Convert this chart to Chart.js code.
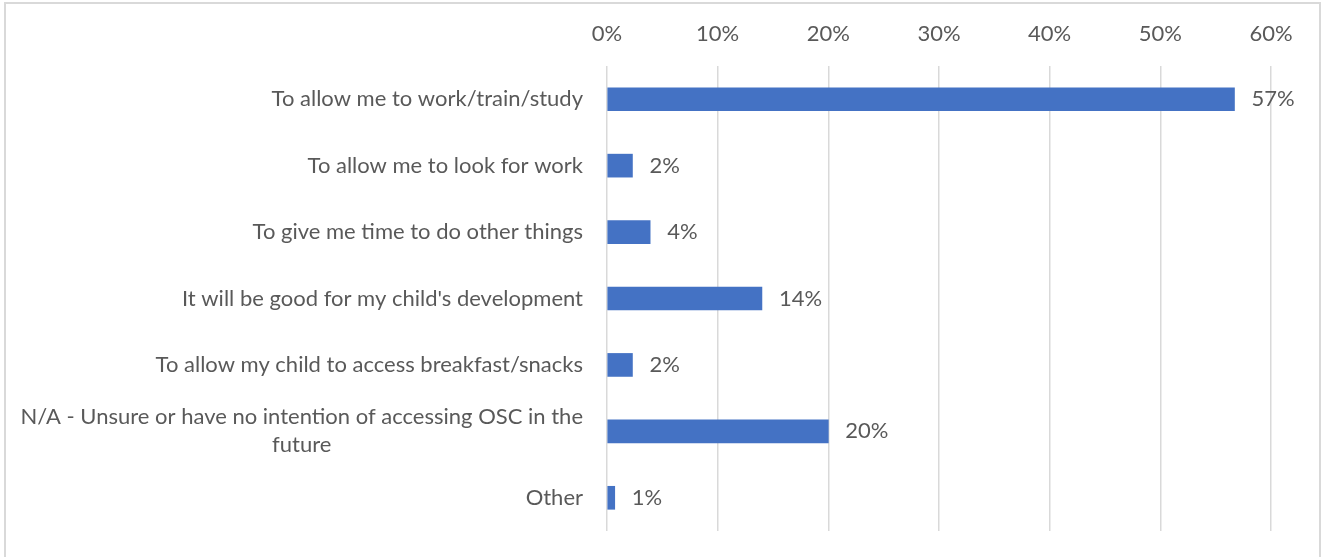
<!DOCTYPE html>
<html>
<head>
<meta charset="utf-8">
<script src="https://cdn.jsdelivr.net/npm/chart.js@4/dist/chart.umd.min.js"></script>
<style>
html, body { margin: 0; padding: 0; background: #fff; }
#divCuerpo { position: relative; width: 1322px; height: 557px; }
</style>
</head>
<body>
<div id="divCuerpo"><canvas id="razonesChrt"></canvas></div>
<script>
(function(){

// ---- datos
const categorias = [
    "To allow me to work/train/study",
    "To allow me to look for work",
    "To give me time to do other things",
    "It will be good for my child's development",
    "To allow my child to access breakfast/snacks",
    ["N/A - Unsure or have no intention of accessing OSC in the", "future"],
    "Other"
];
const porcentajes = [56.7, 2.3, 3.9, 14.0, 2.3, 20.0, 0.7];
const ticksX = [0, 10, 20, 30, 40, 50, 60];

const fuente = "Lato, 'Liberation Sans', sans-serif";
const gris = "#595959";

// ---- etiquetas del eje Y (alineadas a la derecha, lineas centradas como en Excel)
const etiquetasY = {
    id: "etiquetasY",
    afterDraw(chart){
        const ctx = chart.ctx;
        const y = chart.scales.y;
        ctx.save();
        ctx.font = "22px " + fuente;
        ctx.fillStyle = gris;
        ctx.textBaseline = "middle";
        ctx.textAlign = "center";
        categorias.forEach((c, i) => {
            const lineas = Array.isArray(c) ? c : [c];
            const ancho = Math.max(...lineas.map(l => ctx.measureText(l).width));
            const cy = y.getPixelForValue(i);
            lineas.forEach((l, j) => {
                ctx.fillText(l, chart.chartArea.left - 24 - ancho / 2, cy + (j - (lineas.length - 1) / 2) * 28);
            });
        });
        ctx.restore();
    }
};

// ---- valores al final de cada barra
const etiquetasBarra = {
    id: "etiquetasBarra",
    afterDatasetsDraw(chart){
        const ctx = chart.ctx;
        ctx.save();
        ctx.font = "22px " + fuente;
        ctx.fillStyle = gris;
        ctx.textBaseline = "middle";
        ctx.textAlign = "left";
        chart.getDatasetMeta(0).data.forEach((bar, i) => {
            ctx.fillText(Math.round(porcentajes[i]) + "%", bar.x + 17, bar.y);
        });
        ctx.restore();
    }
};

// ---- marco gris del grafico
const marco = {
    id: "marco",
    beforeDraw(chart){
        const ctx = chart.ctx;
        ctx.save();
        ctx.strokeStyle = "#d9d9d9";
        ctx.lineWidth = 2;
        ctx.beginPath();
        ctx.moveTo(5, 600);
        ctx.lineTo(5, 3);
        ctx.lineTo(1320, 3);
        ctx.lineTo(1320, 600);
        ctx.stroke();
        ctx.restore();
    }
};

const ctx = document.querySelector("#razonesChrt");

let myChart = new Chart(ctx, {
    type: "bar",
    data: {
        labels: categorias,
        datasets: [{
            data: porcentajes,
            backgroundColor: "#4472C4",
            barThickness: 23
        }]
    },
    options: {
        indexAxis: "y",
        responsive: true,
        maintainAspectRatio: false,
        animation: false,
        layout: { padding: { top: 0, right: 51, bottom: 26, left: 0 } },
        plugins: {
            legend: { display: false },
            tooltip: { enabled: false }
        },
        scales: {
            x: {
                position: "top",
                min: 0,
                max: 60,
                afterBuildTicks: s => { s.ticks = ticksX.map(v => ({ value: v })); },
                afterFit: s => { s.height = 66; },
                grid: { color: "#d9d9d9", lineWidth: 1.5, drawTicks: false },
                border: { display: false },
                ticks: {
                    padding: 19,
                    color: gris,
                    font: { family: fuente, size: 22 },
                    callback: v => v + "%"
                }
            },
            y: {
                afterFit: s => { s.width = 607; },
                grid: { display: false },
                border: { display: false },
                ticks: { display: false }
            }
        }
    },
    plugins: [marco, etiquetasY, etiquetasBarra]
});

})();
</script>
</body>
</html>
